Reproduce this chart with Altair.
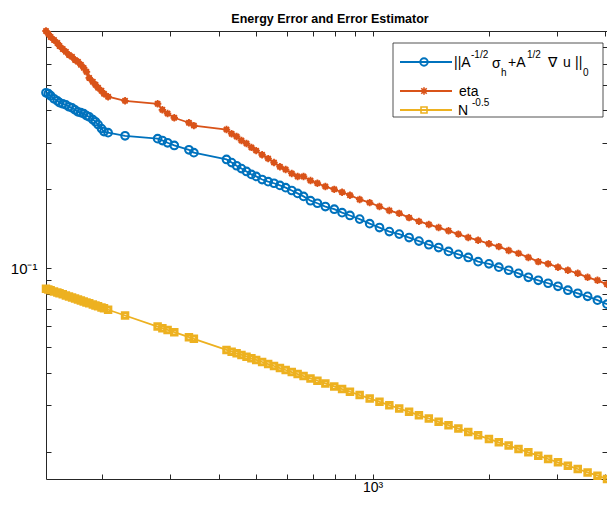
import altair as alt
import pandas as pd

# ---------------- data ----------------
N = [143, 145, 147, 150, 153, 155, 158, 161, 164, 167,
     170, 173, 176, 179, 182, 185, 189, 192, 195, 199,
     202, 207, 229, 278, 286, 295, 307, 335, 345,
     419, 432, 445, 458, 472, 486, 500, 518, 537, 556,
     576, 596, 618, 640, 663, 691, 720, 755, 796, 834,
     874, 926, 983, 1042, 1105, 1172, 1243, 1318, 1398, 1482,
     1572, 1667, 1768, 1875, 2000, 2121, 2249, 2385, 2529, 2683,
     2845, 3017, 3200, 3394, 3599, 3817, 4040]

err = [0.467, 0.463, 0.455, 0.443, 0.435, 0.428, 0.424, 0.420, 0.413, 0.409,
       0.402, 0.395, 0.392, 0.389, 0.382, 0.378, 0.369, 0.362, 0.353, 0.341,
       0.332, 0.329, 0.320, 0.312, 0.307, 0.301, 0.294, 0.283, 0.276,
       0.260, 0.253, 0.246, 0.240, 0.234, 0.228, 0.224, 0.218, 0.214, 0.211,
       0.207, 0.203, 0.198, 0.193, 0.188, 0.181, 0.177, 0.172, 0.168, 0.163,
       0.159, 0.154, 0.148, 0.143, 0.138, 0.135, 0.131, 0.127, 0.123, 0.120,
       0.116, 0.113, 0.110, 0.106, 0.104, 0.101, 0.0983, 0.0957, 0.0924, 0.0900,
       0.0877, 0.0854, 0.0825, 0.0803, 0.0782, 0.0756, 0.0730]

eta = [0.803, 0.783, 0.762, 0.742, 0.723, 0.704, 0.686, 0.669, 0.651, 0.640,
       0.623, 0.613, 0.597, 0.581, 0.561, 0.532, 0.514, 0.501, 0.488, 0.475,
       0.463, 0.451, 0.435, 0.424, 0.402, 0.389, 0.375, 0.359, 0.350,
       0.338, 0.326, 0.318, 0.307, 0.299, 0.289, 0.281, 0.271, 0.262, 0.253,
       0.244, 0.238, 0.230, 0.224, 0.224, 0.216, 0.211, 0.205, 0.200, 0.195,
       0.190, 0.183, 0.178, 0.172, 0.166, 0.162, 0.156, 0.151, 0.147, 0.143,
       0.139, 0.135, 0.131, 0.128, 0.124, 0.121, 0.117, 0.114, 0.110, 0.106,
       0.104, 0.101, 0.0983, 0.0957, 0.0924, 0.0900, 0.0869]

rate = [0.08362, 0.08305, 0.08248, 0.08165, 0.08085, 0.08032, 0.07956, 0.07881, 0.07809, 0.07738,
        0.07670, 0.07603, 0.07538, 0.07474, 0.07412, 0.07352, 0.07274, 0.07217, 0.07161, 0.07089,
        0.07036, 0.06950, 0.06608, 0.05998, 0.05913, 0.05822, 0.05707, 0.05464, 0.05384,
        0.04885, 0.04811, 0.04740, 0.04673, 0.04603, 0.04536, 0.04472, 0.04394, 0.04315, 0.04241,
        0.04167, 0.04096, 0.04023, 0.03953, 0.03884, 0.03804, 0.03727, 0.03639, 0.03544, 0.03463,
        0.03383, 0.03286, 0.03190, 0.03098, 0.03008, 0.02921, 0.02836, 0.02755, 0.02675, 0.02598,
        0.02522, 0.02449, 0.02378, 0.02309, 0.02236, 0.02171, 0.02109, 0.02048, 0.01988, 0.01931,
        0.01875, 0.01821, 0.01768, 0.01717, 0.01667, 0.01619, 0.01573]

x_ticks = [200, 300, 400, 500, 600, 700, 800, 900, 1000, 2000, 3000, 4000]
y_ticks = [0.02, 0.03, 0.04, 0.05, 0.06, 0.07, 0.08, 0.09, 0.1,
           0.2, 0.3, 0.4, 0.5, 0.6, 0.7, 0.8]
x_label_vals = [1000]
y_label_vals = [0.1]

title_text = "Energy Error and Error Estimator"

# ---------------- styling ----------------
BLUE, ORANGE, YELLOW = "#0072BD", "#D95319", "#EDB120"
AX = "#262626"
FONT = "Liberation Sans"
W, H = 561, 448
LW = 1.8
ASTER = "M0,-1L0,1M-1,0L1,0M-0.7,-0.7L0.7,0.7M-0.7,0.7L0.7,-0.7"

xs = alt.Scale(type="log", domain=[min(N), max(N)], nice=False)
ys = alt.Scale(type="log", domain=[min(rate), max(eta)], nice=False)

df_err = pd.DataFrame({"N": N, "v": err})
df_eta = pd.DataFrame({"N": N, "v": eta})
df_rate = pd.DataFrame({"N": N, "v": rate})

# axes: labels on one, inward ticks on the others (MATLAB box style)
ax_x_lab = alt.Axis(orient="bottom", values=x_label_vals, labelExpr="'10³'", ticks=False,
                    tickSize=0, domain=True, domainColor=AX, domainWidth=1, labelFont=FONT,
                    labelFontSize=14, labelColor="#000000", labelPadding=1, title=None, grid=False)
ax_y_lab = alt.Axis(orient="left", values=y_label_vals, labelExpr="'10⁻¹'", ticks=False,
                    tickSize=0, domain=True, domainColor=AX, domainWidth=1, labelFont=FONT,
                    labelFontSize=15, labelColor="#000000", labelPadding=9, title=None, grid=False)
ax_x_in_bot = alt.Axis(orient="top", offset=-H, values=x_ticks, labels=False, domain=False,
                       ticks=True, tickSize=5, tickColor=AX, tickWidth=1, title=None, grid=False)
ax_y_in_left = alt.Axis(orient="right", offset=-W, values=y_ticks, labels=False, domain=False,
                        ticks=True, tickSize=5, tickColor=AX, tickWidth=1, title=None, grid=False)
ax_x_in_top = alt.Axis(orient="bottom", offset=-H, values=x_ticks, labels=False, domain=True,
                       domainColor=AX, domainWidth=1, ticks=True, tickSize=5, tickColor=AX,
                       tickWidth=1, title=None, grid=False)
ax_y_in_right = alt.Axis(orient="left", offset=-W, values=y_ticks, labels=False, domain=True,
                         domainColor=AX, domainWidth=1, ticks=True, tickSize=5, tickColor=AX,
                         tickWidth=1, title=None, grid=False)


def line(df, color, axx, axy):
    return alt.Chart(df).mark_line(color=color, strokeWidth=LW).encode(
        x=alt.X("N:Q", scale=xs, axis=axx), y=alt.Y("v:Q", scale=ys, axis=axy))


def pts(df, color, shape, size, sw=LW, filled=False):
    return alt.Chart(df).mark_point(shape=shape, filled=filled, size=size, color=color,
                                    strokeWidth=sw, opacity=1).encode(
        x=alt.X("N:Q", scale=xs, axis=None), y=alt.Y("v:Q", scale=ys, axis=None))


one = pd.DataFrame({"k": [0]})


def txt(s, x, y, size=14, weight="normal", align="left"):
    return alt.Chart(one).mark_text(text=s, align=align, baseline="alphabetic", font=FONT,
                                    fontSize=size, fontWeight=weight, color="#000000").encode(
        x=alt.value(x), y=alt.value(y))


def seg(color, y):
    return alt.Chart(one).mark_rule(color=color, strokeWidth=LW).encode(
        x=alt.value(354), x2=alt.value(406), y=alt.value(y))


def mk(color, shape, size, y, sw=LW):
    return alt.Chart(one).mark_point(shape=shape, filled=False, size=size, color=color,
                                     strokeWidth=sw, opacity=1).encode(
        x=alt.value(378), y=alt.value(y))


legend_box = alt.Chart(one).mark_rect(fill="white", stroke=AX, strokeWidth=0.8).encode(
    x=alt.value(347), x2=alt.value(557), y=alt.value(12), y2=alt.value(86))

SUP = 10
legend = [
    legend_box,
    seg(BLUE, 31), mk(BLUE, "circle", 55, 31, 2),
    txt("||A", 408, 35.5), txt("-1/2", 425, 27, SUP), txt("σ", 446, 37),
    txt("h", 455, 45, SUP), txt("+A", 462, 35.5), txt("1/2", 481, 27, SUP),
    txt("∇", 502, 35.5), txt("u", 517, 35.5), txt("||", 529, 35.5), txt("0", 537, 45, SUP),
    seg(ORANGE, 60), mk(ORANGE, ASTER, 60, 60, 1.6), txt("eta", 413, 64.5),
    seg(YELLOW, 79), mk(YELLOW, "square", 36, 79, 1.6),
    txt("N", 412, 84), txt("-0.5", 426, 74.5, SUP),
]

title_mark = txt(title_text, 284, -8, 12.5, "bold", "center")

chart = alt.layer(
    line(df_err, BLUE, ax_x_lab, ax_y_lab),
    pts(df_err, BLUE, "circle", 58, 2.1),
    line(df_eta, ORANGE, ax_x_in_bot, ax_y_in_left),
    pts(df_eta, ORANGE, "circle", 34, 0, True),
    pts(df_eta, ORANGE, ASTER, 55, 1.8),
    line(df_rate, YELLOW, ax_x_in_top, ax_y_in_right),
    pts(df_rate, YELLOW, "square", 30, 3),
    *legend,
    title_mark,
).resolve_axis(x="independent", y="independent").properties(
    width=W, height=H,
    autosize=alt.AutoSizeParams(type="none"),
    padding={"left": 38, "top": 23, "right": 0, "bottom": 14},
).configure_view(stroke=None).configure_axis(grid=False)

chart.save("out.html", embed_options={"renderer": "svg", "actions": False})
